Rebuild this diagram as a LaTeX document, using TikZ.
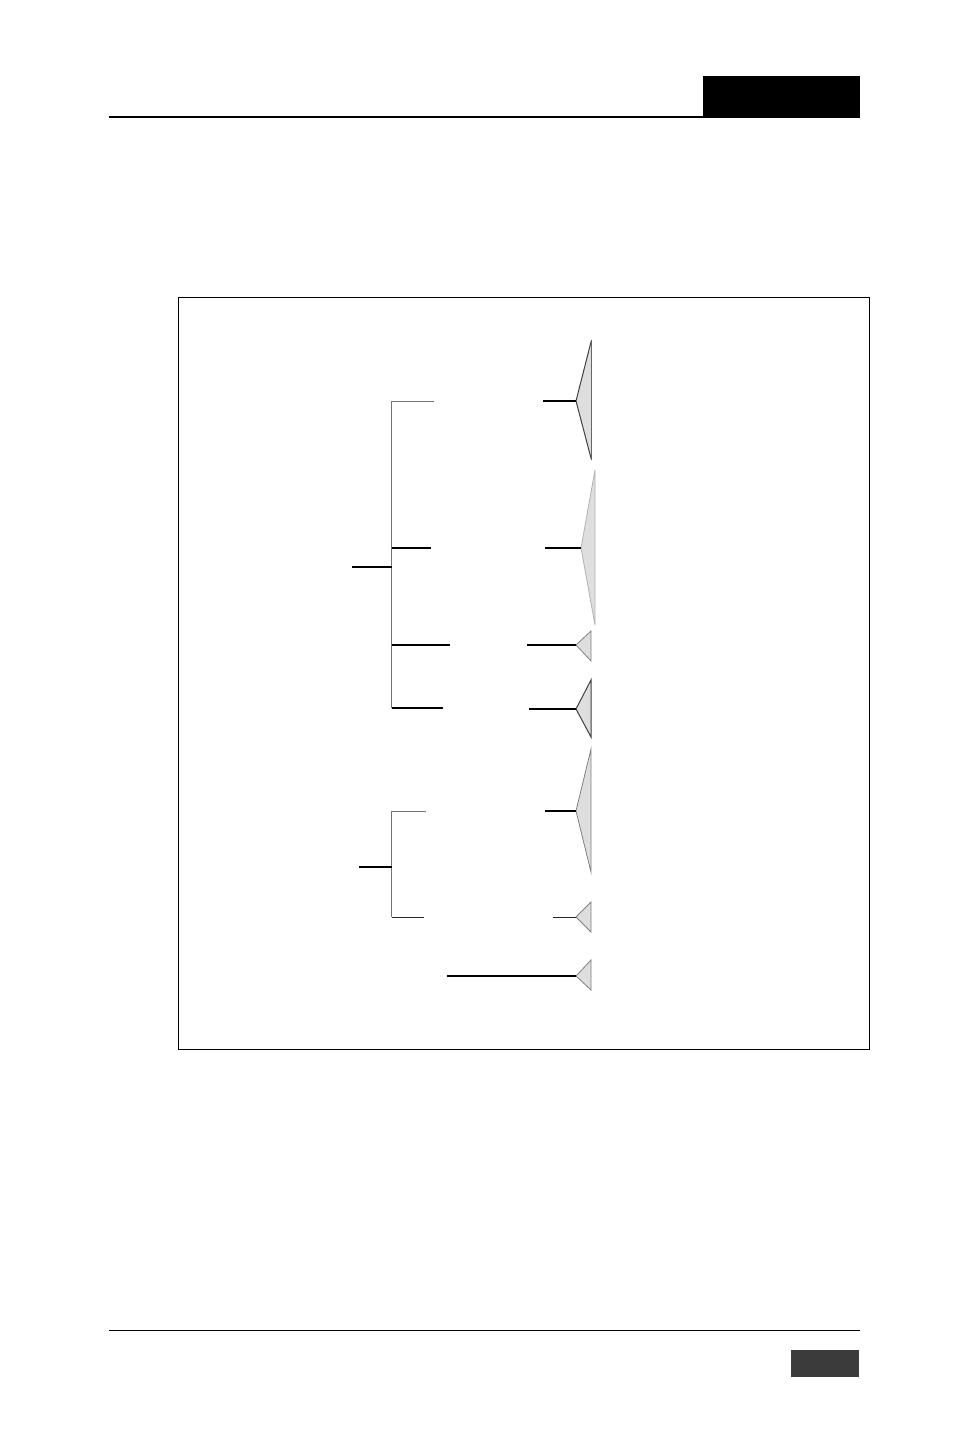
\documentclass[tikz,border=0pt]{standalone}
\begin{document}
\begin{tikzpicture}[x=1pt,y=-1pt,
  thick stub/.style={line width=2pt,black},
  thin stub/.style={line width=1pt,black!85},
  spine/.style={line width=1.2pt,black!55},
  fan/.style={fill=black!13,draw=black!50,line width=0.8pt},
  darkfan/.style={fill=black!13,draw=black!75,line width=1pt},
  lightfan/.style={fill=black!13,draw=black!30,line width=0.8pt}]
\useasboundingbox (0,0) rectangle (954,1434);
% header
\fill[black] (703,76) rectangle (860,118);
\draw[line width=2pt] (109,117) -- (703,117);
% footer
\draw[line width=1pt] (109,1330.5) -- (860,1330.5);
\fill[black!77] (791,1350) rectangle (859,1377);
% frame
\draw[line width=0.8pt] (178,297) rectangle (869,1049);

% tree 1
\coordinate (r1) at (352,567);
\coordinate (s1t) at (391.5,401);
\coordinate (s1m) at (391.5,567);
\coordinate (s1b) at (391.5,708);
\draw[spine] (s1t) -- (s1b);
\draw[thick stub] (r1) -- (s1m);
\draw[thin stub,black!55] (s1t) -- (434,401);
\draw[thick stub] (391.5,548) -- (431,548);
\draw[thick stub] (391.5,645) -- (450,645);
\draw[thick stub] (391.5,708) -- (443,708);

% right fans
\coordinate (a1) at (576,401);
\fill[black!13] (591.5,340) -- (a1) -- (591.5,460) -- cycle;
\draw[darkfan] (591.5,340) -- (a1) -- (591.5,460);
\draw[line width=0.8pt,black!60] (591.5,340) -- (591.5,460);
\draw[thick stub] (543,401) -- (a1);

\coordinate (a2) at (581,548);
\draw[lightfan] (595,470) -- (a2) -- (595,625) -- cycle;
\draw[thick stub] (545,548) -- (a2);

\coordinate (a3) at (576,645);
\draw[fan] (591,631) -- (a3) -- (591,661) -- cycle;
\draw[thick stub] (527,645) -- (a3);

\coordinate (a4) at (576,709);
\draw[darkfan] (591,680) -- (a4) -- (591,737) -- cycle;
\draw[thick stub] (529,709) -- (a4);

\coordinate (a5) at (576,811);
\draw[fan] (591,749) -- (a5) -- (591,872) -- cycle;
\draw[thick stub] (545,811) -- (a5);

% tree 2
\coordinate (r2) at (359,867);
\coordinate (s2t) at (391.5,811);
\coordinate (s2m) at (391.5,867);
\coordinate (s2b) at (391.5,917);
\draw[spine] (s2t) -- (s2b);
\draw[thick stub] (r2) -- (s2m);
\draw[thin stub,black!55] (s2t) -- (426,811);
\draw[thin stub] (s2b) -- (424,917);

\coordinate (a6) at (576,917);
\draw[fan] (591,902) -- (a6) -- (591,932) -- cycle;
\draw[thin stub] (553,917) -- (a6);

\coordinate (a7) at (576,976);
\draw[fan] (591,960) -- (a7) -- (591,990) -- cycle;
\draw[thick stub] (447,976) -- (a7);
\end{tikzpicture}
\end{document}
